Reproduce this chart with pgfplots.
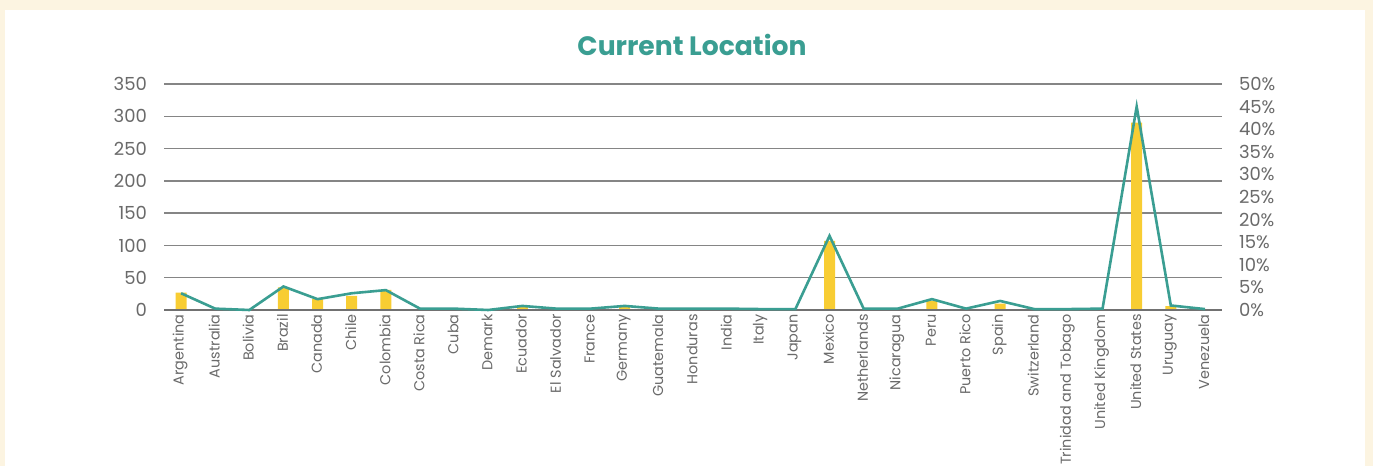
\documentclass[border=0pt]{standalone}
\usepackage{pgfplots}
\pgfplotsset{compat=1.18}
\usepackage{fontspec}
\setmainfont{Poppins}
\definecolor{cream}{HTML}{FCF4E1}
\definecolor{myteal}{HTML}{3A9E92}
\definecolor{barcol}{HTML}{F8CD33}
\definecolor{labgray}{HTML}{6A6A6A}
\definecolor{gridgray}{HTML}{858585}
\begin{document}
\begin{tikzpicture}
\fill[cream] (0,0) rectangle (686.5pt,233pt);
\useasboundingbox (0,0) rectangle (686.5pt,233pt);
\fill[white] (2.5pt,0) rectangle (682.5pt,228pt);
\node[font=\bfseries\fontsize{13.3}{15}\selectfont, text=myteal] at (346pt,210.5pt) {Current Location};
\begin{axis}[
  at={(82pt,78pt)}, anchor=south west, scale only axis,
  width=529pt, height=113pt,
  xmin=-0.5, xmax=30.5, ymin=0, ymax=350,
  ytick={0,50,...,350},
  xtick={0,...,30},
  xticklabels={Argentina,Australia,Bolivia,Brazil,Canada,Chile,Colombia,Costa Rica,Cuba,Demark,Ecuador,El Salvador,France,Germany,Guatemala,Honduras,India,Italy,Japan,Mexico,Netherlands,Nicaragua,Peru,Puerto Rico,Spain,Switzerland,Trinidad and Tobago,United Kingdom,United States,Uruguay,Venezuela},
  axis line style={draw=none},
  major tick length=0pt,
  ymajorgrids, grid style={gridgray, line width=0.65pt},
  /pgf/number format/assume math mode=true,
  xticklabel style={rotate=90, anchor=east, font=\fontsize{7.2}{8}\selectfont, text=labgray, inner sep=1pt, xshift=-1pt, yshift=0.5pt},
  yticklabel style={font=\fontsize{9}{10}\selectfont, text=labgray, xshift=-5pt},
  ybar, bar width=5.5pt, clip=false,
]
\addplot[fill=barcol, draw=none] coordinates {
(0,27) (1,1) (2,0) (3,35) (4,17) (5,22) (6,31) (7,1) (8,1) (9,0)
(10,5) (11,1) (12,1) (13,5) (14,1) (15,1) (16,1) (17,1) (18,1) (19,107)
(20,1) (21,1) (22,14) (23,1) (24,10) (25,1) (26,1) (27,1) (28,290) (29,6) (30,1)};
\draw[gridgray!85!black, line width=1.3pt] (axis cs:-0.5,0) -- (axis cs:30.5,0);
\end{axis}
\begin{axis}[
  at={(82pt,78pt)}, anchor=south west, scale only axis,
  width=529pt, height=113pt,
  xmin=-0.5, xmax=30.5, ymin=0, ymax=50,
  ytick={0,5,...,50},
  yticklabel={\pgfmathprintnumber{\tick}\%},
  axis y line*=right, hide x axis,
  axis line style={draw=none},
  major tick length=0pt,
  /pgf/number format/assume math mode=true,
  yticklabel style={font=\fontsize{9}{10}\selectfont, text=labgray, xshift=5pt},
  clip=false,
]
\addplot[myteal, line width=1.3pt, mark=none] coordinates {
(0,3.7) (1,0.3) (2,0) (3,5.2) (4,2.4) (5,3.7) (6,4.4) (7,0.3) (8,0.3) (9,0)
(10,0.9) (11,0.3) (12,0.3) (13,0.9) (14,0.3) (15,0.3) (16,0.3) (17,0.2) (18,0.2) (19,16.4)
(20,0.3) (21,0.3) (22,2.4) (23,0.3) (24,2.0) (25,0.2) (26,0.2) (27,0.3) (28,45) (29,1.0) (30,0.2)};
\end{axis}
\end{tikzpicture}
\end{document}
